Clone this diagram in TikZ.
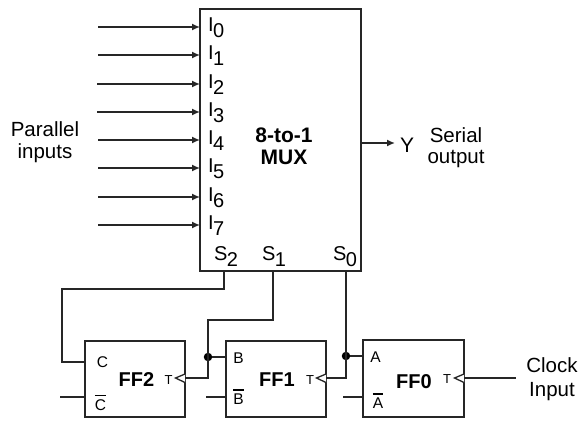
\documentclass[tikz,border=0pt]{standalone}
\usepackage{fontspec}
\setmainfont{Liberation Sans}
\usetikzlibrary{arrows.meta,calc}
\newcommand{\fsz}[1]{\fontsize{#1}{#1}\selectfont}
\newcommand{\pinlab}[2]{#1\kern-0.6pt\raisebox{-6pt}{#2}}
\newcommand{\ovl}[1]{\setbox0=\hbox{#1}\rlap{\raisebox{14pt}{\rule{\wd0}{1.1pt}}}\box0}
\tikzset{
  x=1pt,y=-1pt,
  wire/.style={draw=black!85,line width=1.5pt},
  blockbox/.style={draw=black!85,line width=1.5pt,fill=white,inner sep=0pt,outer sep=0pt,anchor=north west},
  inwire/.style={wire,-{Latex[length=8pt,width=7pt]}},
  pin/.style={inner sep=0pt,font=\fsz{20},anchor=west},
  lbl/.style={inner sep=0pt,font=\fsz{20.5},align=center},
  boldlbl/.style={inner sep=0pt,font=\fsz{20}\bfseries,align=center},
  smalll/.style={inner sep=0pt,font=\fsz{15.5}},
  tlab/.style={inner sep=0pt,font=\fsz{13}},
  dot/.style={circle,fill=black,inner sep=0pt,minimum size=8.5pt},
  clk/.style={draw=black!85,line width=1.3pt,fill=white,line join=miter},
}
\begin{document}
\begin{tikzpicture}
\useasboundingbox (0,0) rectangle (578,421);
% MUX
\node[blockbox,minimum width=161pt,minimum height=262pt] (mux) at (200,9) {};
\node[boldlbl,font=\fsz{21}\bfseries] (muxl) at (284,146) {8-to-1\\[1pt]MUX};
% inputs
\foreach \i/\y/\xs in {0/27/98,1/55/98,2/84/97,3/112/97,4/140/98,5/168/98,6/197/98,7/225/98}{
  \coordinate (s\i) at (\xs,\y);
  \coordinate (e\i) at (200,\y);
  \draw[inwire] (s\i) -- (e\i);
  \node[pin] (i\i) at (208,\y+1) {\pinlab{I}{\i}};
}
\node[lbl] (par) at (45,142) {Parallel\\[1pt]inputs};
% select labels
\node[inner sep=0pt,font=\fsz{20}] (sel2) at (226,257) {\pinlab{S}{2}};
\node[inner sep=0pt,font=\fsz{20}] (sel1) at (274,257) {\pinlab{S}{1}};
\node[inner sep=0pt,font=\fsz{20}] (sel0) at (345,257) {\pinlab{S}{0}};
% output
\coordinate (yout) at (361,143);
\node[inner sep=0pt,font=\fsz{21}] (y) at (407,145) {Y};
\draw[wire,-{Latex[length=8pt,width=7pt]}] (yout) -- (395,143);
\node[lbl] (ser) at (456,147.5) {Serial\\[1pt]output};
% flip-flops
\node[blockbox,minimum width=100pt,minimum height=76pt] (ff2) at (85,341) {};
\node[blockbox,minimum width=100pt,minimum height=76pt] (ff1) at (226,341) {};
\node[blockbox,minimum width=101pt,minimum height=77pt] (ff0) at (363,340) {};
\node[boldlbl] (ff2l) at (136.5,380) {FF2};
\node[boldlbl] (ff1l) at (277,380) {FF1};
\node[boldlbl] (ff0l) at (414,382) {FF0};
\node[tlab] (t2) at (168.5,380) {T};
\node[tlab] (t1) at (310,380) {T};
\node[tlab] (t0) at (447,379) {T};
\node[smalll] (c) at (102.5,362.5) {C};
\node[smalll] (cb) at (100.5,403) {\ovl{C}};
\node[smalll] (b) at (238.5,358) {B};
\node[smalll] (bb) at (238.5,397) {\ovl{B}};
\node[smalll] (a) at (375.5,357.5) {A};
\node[smalll] (ab) at (378,401) {\ovl{A}};
% clock triangles
\coordinate (tip2) at (175.5,378);
\coordinate (tip1) at (316.5,378);
\coordinate (tip0) at (454.5,378);
\draw[clk] (185,374) -- (tip2) -- (185,382.5);
\draw[clk] (326,374) -- (tip1) -- (326,382.5);
\draw[clk] (464,374) -- (tip0) -- (464,382.5);
% wiring
\coordinate (so2) at (224,271);
\coordinate (so1) at (273,271);
\coordinate (so0) at (346,271);
\node[dot] (d1) at (208,357) {};
\node[dot] (d0) at (346,356) {};
\draw[wire] (so2) -- (224,289) -- (62,289) -- (62,362) -- (85,362);
\draw[wire] (so1) -- (273,320) -- (208,320) -- (d1.center) -- (208,378) -- (185,378);
\draw[wire] (d1) -- (226,357);
\draw[wire] (so0) -- (d0.center) -- (346,378) -- (326,378);
\draw[wire] (d0) -- (363,356);
\draw[wire] (60,397) -- (85,397);
\draw[wire] (206,397) -- (226,397);
\draw[wire] (343,397) -- (363,397);
\draw[wire] (464,378) -- (516,378);
\node[lbl] (clkl) at (552,379) {Clock\\[3pt]Input};
\end{tikzpicture}
\end{document}
